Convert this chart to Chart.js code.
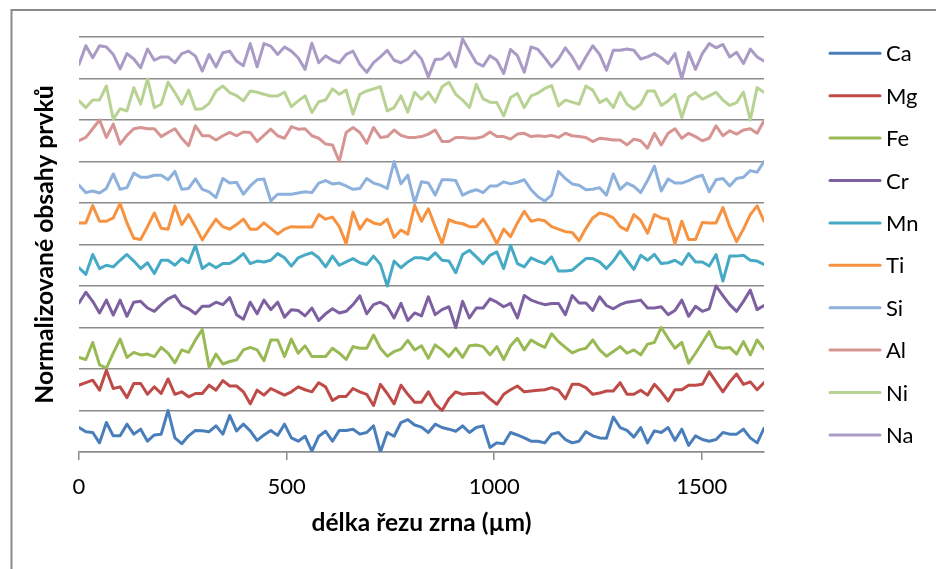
<!DOCTYPE html>
<html>
<head>
<meta charset="utf-8">
<script src="https://cdn.jsdelivr.net/npm/chart.js@4.4.1/dist/chart.umd.min.js"></script>
<style>
  html, body { margin: 0; padding: 0; background: #fff; }
  #wrap { width: 936px; height: 569px; position: relative; }
</style>
</head>
<body>
<div id="wrap"><canvas id="c" width="936" height="569"></canvas></div>
<script>
// ---- DATA ----
const seriesNames = ['Ca', 'Mg', 'Fe', 'Cr', 'Mn', 'Ti', 'Si', 'Al', 'Ni', 'Na'];
const xTickValues = [0, 500, 1000, 1500];
const xTickLabels = ['0', '500', '1000', '1500'];
const xTitle = 'délka řezu zrna (µm)';
const yTitle = 'Normalizované obsahy prvků';

const distance = [0,16.5,33,49.5,66,82.5,99,115.5,132,148.5,165,181.5,198,214.5,231,247.5,264,280.5,297,313.5,
  330,346.5,363,379.5,396,412.5,429,445.5,462,478.5,495,511.5,528,544.5,561,577.5,594,610.5,627,643.5,
  660,676.5,693,709.5,726,742.5,759,775.5,792,808.5,825,841.5,858,874.5,891,907.5,924,940.5,957,973.5,
  990,1006.5,1023,1039.5,1056,1072.5,1089,1105.5,1122,1138.5,1155,1171.5,1188,1204.5,1221,1237.5,1254,1270.5,1287,1303.5,
  1320,1336.5,1353,1369.5,1386,1402.5,1419,1435.5,1452,1468.5,1485,1501.5,1518,1534.5,1551,1567.5,1584,1600.5,1617,1633.5,1650];

// normalized contents (0..1) of each element
const ca = [.59,.49,.47,.22,.71,.39,.39,.67,.43,.55, .26,.41,.43,1.0,.34,.2,.39,.52,.51,.49,
  .63,.43,.88,.51,.67,.51,.28,.41,.52,.4, .67,.34,.26,.38,.02,.38,.5,.26,.52,.52,
  .55,.43,.47,.63,0,.47,.38,.71,.78,.65, .6,.47,.67,.59,.55,.5,.63,.47,.59,.63,
  .11,.22,.2,.47,.41,.34,.26,.26,.22,.43, .47,.3,.22,.26,.49,.39,.34,.33,.84,.59,
  .52,.36,.59,.22,.51,.47,.59,.28,.55,.16, .39,.3,.26,.3,.47,.43,.43,.55,.34,.22, .57];
const mg = [.61,.67,.73,.49,.97,.53,.57,.31,.65,.65, .39,.57,.41,.76,.39,.45,.33,.41,.41,.61,
  .49,.72,.59,.59,.45,.16,.49,.37,.53,.45, .37,.45,.57,.5,.45,.67,.57,.24,.34,.34,
  .53,.45,.39,.12,.63,.41,.16,.61,.39,.2, .2,.45,.16,0,.28,.45,.39,.41,.41,.43,
  .28,.15,.39,.5,.59,.45,.47,.49,.5,.55, .49,.28,.63,.63,.55,.39,.42,.47,.47,.67,
  .39,.39,.49,.37,.63,.45,.23,.5,.5,.61, .61,.63,.93,.69,.45,.69,.88,.63,.69,.5, .67];
const fe = [.28,.23,.64,.1,.02,.38,.72,.28,.4,.34, .36,.3,.52,.38,.15,.46,.4,.7,.95,.04,
  .36,.12,.18,.22,.46,.52,.46,.2,.7,.7, .3,.72,.38,.56,.3,.3,.3,.5,.38,.23,
  .54,.5,.5,.82,.5,.31,.42,.48,.69,.46, .56,.26,.58,.46,.3,.5,.28,.56,.58,.54,
  .34,.54,.23,.56,.74,.46,.7,.6,.52,.85, .66,.52,.39,.46,.5,.7,.46,.31,.42,.54,
  .38,.46,.34,.6,.64,1.0,.74,.5,.64,.14, .38,.64,.9,.54,.5,.52,.36,.66,.34,.7, .48];
const cr = [.59,.85,.63,.35,.66,.3,.66,.27,.61,.63, .47,.39,.55,.69,.77,.53,.45,.33,.51,.51,
  .61,.55,.72,.31,.2,.61,.33,.66,.43,.61, .25,.43,.41,.28,.47,.17,.33,.45,.35,.39,
  .55,.76,.33,.55,.61,.51,.23,.58,.17,.35, .28,.74,.31,.43,.5,0,.63,.23,.47,.47,
  .69,.61,.5,.58,.23,.77,.66,.6,.55,.58, .58,.31,.77,.59,.59,.41,.74,.53,.45,.55,
  .61,.63,.66,.47,.47,.5,.31,.41,.66,.27, .51,.39,.45,1.0,.77,.55,.39,.63,.9,.43, .53];
const mn = [.44,.28,.76,.42,.5,.46,.62,.76,.6,.42, .56,.3,.62,.62,.5,.66,.56,.98,.42,.54,
  .44,.54,.54,.64,.78,.54,.6,.58,.62,.78, .68,.48,.68,.75,.8,.68,.46,.72,.5,.58,
  .66,.56,.52,.72,.52,0,.6,.44,.58,.68, .68,.64,.8,.62,.6,.32,.76,.86,.7,.54,
  .74,.82,.42,.98,.54,.46,.68,.6,.54,.7, .36,.36,.38,.52,.66,.66,.58,.42,.6,.84,
  .62,.4,.74,.62,.76,.54,.56,.62,.52,.78, .58,.58,.48,.76,.12,.72,.72,.74,.62,.6, .52];
const ti = [.52,.52,.94,.56,.56,.64,.99,.52,.15,.12, .43,.76,.39,.37,.93,.48,.72,.43,.11,.37,
  .61,.43,.37,.48,.61,.37,.37,.52,.39,.25, .37,.43,.42,.42,.42,.72,.61,.66,.43,.02,
  .78,.37,.61,.52,.48,.61,.17,.35,.25,.94, .56,.86,.43,.02,.6,.53,.5,.43,.43,.61,
  .35,.02,.37,.19,.52,.8,.56,.6,.57,.43, .37,.31,.29,.09,.39,.64,.76,.72,.64,.43,
  .34,.72,.58,.27,.72,.64,.61,.02,.56,.12, .12,.53,.52,.52,.89,.43,.07,.37,.72,.93, .56];
const si = [.43,.25,.29,.24,.35,.7,.33,.37,.72,.62, .62,.67,.67,.56,.76,.33,.35,.58,.33,.27,
  .13,.59,.48,.5,.21,.41,.56,.58,.05,.21, .21,.21,.24,.27,.25,.48,.54,.46,.48,.41,
  .33,.35,.59,.48,.43,.35,1.0,.46,.67,0, .51,.48,.19,.56,.56,.54,.19,.27,.32,.25,
  .41,.41,.51,.46,.5,.56,.32,.15,.05,.19, .76,.59,.46,.43,.32,.33,.37,.19,.7,.33,
  .48,.4,.25,.54,.89,.29,.58,.48,.48,.54, .62,.67,.27,.56,.59,.41,.59,.62,.78,.74, 1.0];
const al = [.5,.58,.79,1.0,.58,.9,.42,.63,.79,.82, .79,.79,.6,.7,.79,.56,.38,.86,.62,.62,
  .52,.62,.7,.62,.71,.7,.48,.63,.78,.62, .56,.84,.78,.79,.62,.56,.42,.4,0,.7,
  .82,.7,.44,.82,.58,.6,.76,.63,.58,.58, .6,.66,.76,.48,.48,.58,.58,.56,.56,.6,
  .71,.6,.6,.54,.66,.68,.6,.62,.6,.63, .58,.68,.62,.6,.58,.48,.56,.54,.52,.52,
  .4,.54,.5,.32,.68,.4,.68,.79,.56,.68, .6,.5,.56,.86,.62,.74,.66,.76,.79,.68, .98];
const ni = [.46,.3,.48,.48,.82,.02,.27,.22,.78,.38, .99,.3,.38,.91,.66,.38,.72,.26,.27,.4,
  .7,.82,.66,.59,.46,.7,.67,.62,.58,.58, .67,.32,.46,.58,.18,.44,.48,.75,.62,.72,
  .14,.62,.7,.75,.8,.22,.3,.58,.19,.67, .5,.67,.43,.8,.91,.62,.48,.3,.86,.51,
  .43,.42,.1,.54,.64,.3,.58,.65,.76,.83, .34,.48,.43,.38,.82,.72,.42,.51,.3,.67,
  .38,.26,.38,.7,.7,.35,.46,.62,.06,.56, .66,.5,.58,.67,.48,.35,.42,.67,0,.78, .67];
const na = [.34,.79,.5,.79,.76,.58,.23,.6,.47,.26, .71,.44,.52,.52,.38,.6,.66,.54,.18,.58,
  .28,.62,.66,.42,.31,.84,.28,.84,.78,.58, .76,.66,.5,.22,.85,.38,.55,.44,.38,.58,
  .66,.34,.15,.38,.52,.68,.44,.38,.47,.66, .47,.04,.46,.47,.62,.28,.95,.66,.38,.3,
  .55,.44,.12,.7,.55,.15,.76,.7,.5,.28, .47,.74,.52,.23,.52,.79,.58,.2,.68,.68,
  .71,.68,.47,.52,.6,.5,.36,.6,0,.63, .22,.6,.84,.74,.82,.52,.63,.36,.71,.52, .42];

const seriesValues = [ca, mg, fe, cr, mn, ti, si, al, ni, na];

// ---- STYLE ----
const colors = ['#4A7EBB', '#BE4B48', '#98B954', '#7D60A0', '#46AAC5', '#F69240',
                '#8DB0DC', '#D69492', '#B8D294', '#A99BC6'];
const FONT = 'Lato';
const GRID = '#8c8c8c';

// each element drawn in its own band (band k = element index)
const datasets = seriesNames.map((name, k) => ({
  label: name,
  data: seriesValues[k].map((v, i) => ({ x: distance[i], y: v + k })),
  borderColor: colors[k],
  backgroundColor: colors[k],
  borderWidth: 3,
  pointRadius: 0,
  pointHoverRadius: 0,
  tension: 0,
  fill: false,
  borderJoinStyle: 'round',
  borderCapStyle: 'round'
}));

const framePlugin = {
  id: 'frame',
  beforeDraw(chart) {
    const ctx = chart.ctx;
    ctx.save();
    ctx.fillStyle = '#fff';
    ctx.fillRect(0, 0, chart.width, chart.height);
    ctx.strokeStyle = '#8a8a8a';
    ctx.lineWidth = 2;
    ctx.beginPath();
    ctx.moveTo(11.5, chart.height + 5);
    ctx.lineTo(11.5, 10);
    ctx.lineTo(chart.width + 5, 10);
    ctx.stroke();
    ctx.restore();
  }
};

const legendPlugin = {
  id: 'sideLegend',
  afterDraw(chart) {
    const ctx = chart.ctx;
    ctx.save();
    ctx.font = '22px ' + FONT;
    ctx.textAlign = 'left';
    ctx.textBaseline = 'middle';
    chart.data.datasets.forEach((ds, k) => {
      const y = 53.3 + k * 42.4;
      ctx.strokeStyle = ds.borderColor;
      ctx.lineWidth = 3;
      ctx.lineCap = 'round';
      ctx.beginPath();
      ctx.moveTo(830, y);
      ctx.lineTo(880, y);
      ctx.stroke();
      ctx.fillStyle = '#000';
      ctx.fillText(ds.label, 886, y + 1);
    });
    ctx.restore();
  }
};

new Chart(document.getElementById('c'), {
  type: 'line',
  data: { datasets },
  options: {
    responsive: false,
    devicePixelRatio: 1,
    animation: false,
    events: [],
    layout: { padding: { left: 32, top: 37, right: 172, bottom: 0 } },
    plugins: { legend: { display: false }, tooltip: { enabled: false } },
    scales: {
      x: {
        type: 'linear',
        min: 0,
        max: 1650,
        afterFit(scale) { scale.height = 117; },
        afterBuildTicks(scale) { scale.ticks = xTickValues.map(v => ({ value: v })); },
        ticks: {
          callback: (v) => xTickLabels[xTickValues.indexOf(v)] ?? '',
          font: { family: FONT, size: 22 },
          color: '#000',
          padding: 14,
          maxRotation: 0,
          autoSkip: false
        },
        grid: { drawOnChartArea: false, drawTicks: true, tickLength: 8, color: GRID, lineWidth: 1.5 },
        border: { display: true, color: GRID, width: 1.5 },
        title: {
          display: true,
          text: xTitle,
          font: { family: FONT, size: 24.5, weight: 'bold' },
          color: '#000',
          padding: { top: 0, bottom: 31 }
        }
      },
      y: {
        type: 'linear',
        min: 0,
        max: 10,
        afterFit(scale) { scale.width = 47; },
        ticks: { display: false, stepSize: 1 },
        grid: { drawTicks: false, color: GRID, lineWidth: 1.5 },
        border: { display: false },
        title: {
          display: true,
          text: yTitle,
          font: { family: FONT, size: 24.7, weight: 'bold' },
          color: '#000',
          padding: { top: -1.5, bottom: 0 }
        }
      }
    }
  },
  plugins: [framePlugin, legendPlugin]
});
</script>
</body>
</html>
